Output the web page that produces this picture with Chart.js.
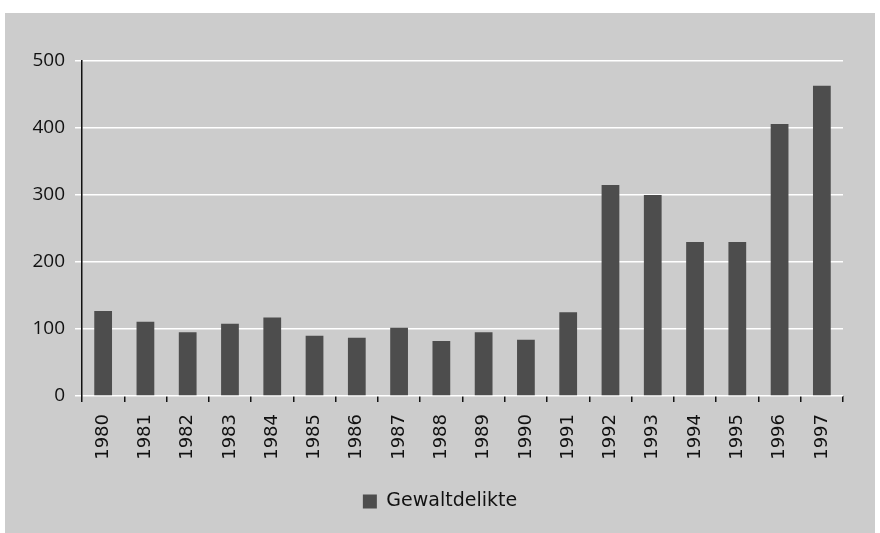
<!DOCTYPE html>
<html>
<head>
<meta charset="utf-8">
<script src="https://cdn.jsdelivr.net/npm/chart.js@4"></script>
<style>
  html, body { margin: 0; padding: 0; background: #ffffff; width: 880px; height: 533px; overflow: hidden; }
  #panel { position: absolute; left: 5px; top: 13px; width: 870px; height: 520px; background: #cccccc; }
  #panel canvas { display: block; }
</style>
</head>
<body>
<div id="panel"><canvas id="c" width="870" height="520"></canvas></div>
<script>
const years = ['1980','1981','1982','1983','1984','1985','1986','1987','1988','1989','1990','1991','1992','1993','1994','1995','1996','1997'];
const gewaltdelikte = [127, 111, 95, 108, 117, 90, 87, 102, 82, 95, 84, 125, 315, 300, 230, 230, 406, 463];
const seriesLabel = 'Gewaltdelikte';
const yTicks = [0, 100, 200, 300, 400, 500];

const centerLegend = {
  id: 'centerLegend',
  afterLayout(chart) {
    if (chart.legend) {
      chart.legend.left = 0;
      chart.legend.right = chart.width;
    }
  }
};

new Chart(document.getElementById('c'), {
  type: 'bar',
  data: {
    labels: years,
    datasets: [{
      label: seriesLabel,
      data: gewaltdelikte,
      backgroundColor: '#4d4d4d',
      borderWidth: 0,
      barPercentage: 0.42,
      categoryPercentage: 1.0
    }]
  },
  plugins: [centerLegend],
  options: {
    responsive: false,
    animation: false,
    devicePixelRatio: 1,
    layout: { padding: { left: 0, right: 32, top: 48, bottom: 12 } },
    plugins: {
      legend: {
        display: true,
        position: 'bottom',
        labels: {
          boxWidth: 14,
          boxHeight: 14,
          padding: 10,
          color: '#111111',
          font: { family: 'DejaVu Sans', size: 19 }
        }
      },
      tooltip: { enabled: false }
    },
    scales: {
      x: {
        grid: {
          offset: true,
          drawOnChartArea: false,
          drawTicks: true,
          tickLength: 6,
          color: '#111111',
          lineWidth: 1.5
        },
        border: { display: false },
        ticks: {
          autoSkip: false,
          maxRotation: 90,
          minRotation: 90,
          padding: 12,
          color: '#111111',
          font: { family: 'DejaVu Sans', size: 18 }
        },
        afterFit: (s) => { s.height = 86; }
      },
      y: {
        min: 0,
        max: 500,
        afterBuildTicks: (s) => { s.ticks = yTicks.map(v => ({ value: v })); },
        grid: {
          color: '#ffffff',
          lineWidth: 1.5,
          tickLength: 7,
          tickColor: '#ffffff'
        },
        border: { display: true, color: '#111111', width: 1.5 },
        ticks: {
          padding: 10,
          color: '#111111',
          font: { family: 'Open Sans', size: 19 }
        },
        afterFit: (s) => { s.width = 77; }
      }
    }
  }
});
</script>
</body>
</html>
